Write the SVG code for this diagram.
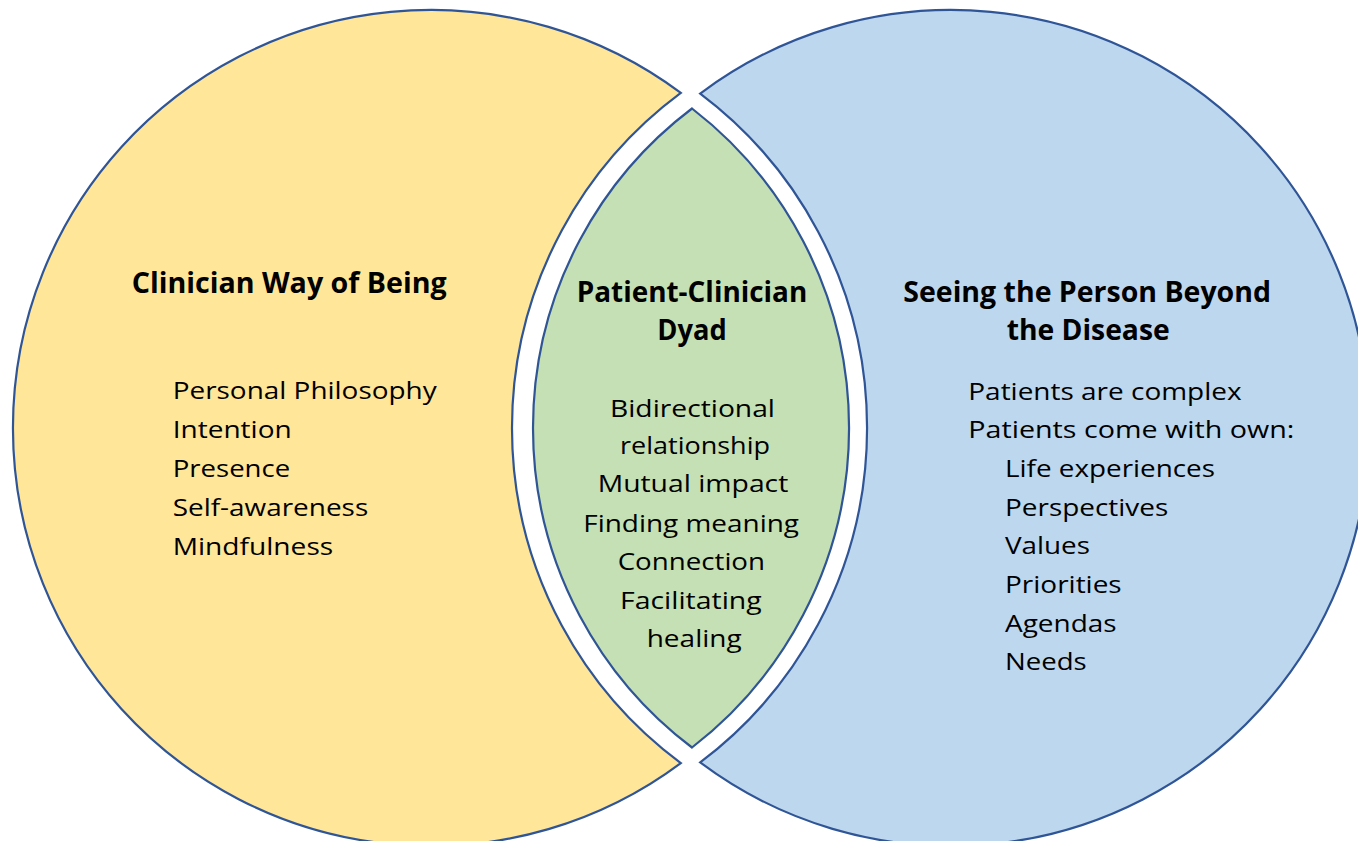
<svg xmlns="http://www.w3.org/2000/svg" width="1358" height="841" viewBox="0 0 1358 841">
  <style>
    .shape { stroke: #2F5597; stroke-width: 2.2; stroke-linejoin: miter; }
    .yellow { fill: #FFE699; }
    .green { fill: #C5E0B4; }
    .blue { fill: #BDD7EE; }
    text { font-family: "Open Sans", "Noto Sans", "Liberation Sans", sans-serif; fill: #000; }
    .title { font-size: 28px; font-weight: bold; }
    .item { font-size: 24px; }
  </style>
  <rect width="1358" height="841" fill="#FFFFFF"/>

  <!-- Left crescent: clinician side -->
  <g id="clinician">
    <path class="shape yellow" d="M 680.8,92.9 A 418 418 0 1 0 680.8,763.1 A 417 417 0 0 1 680.8,92.9 Z"/>
    <text class="title" x="131.7" y="293.3" textLength="315" lengthAdjust="spacingAndGlyphs">Clinician Way of Being</text>
    <text class="item" x="172.7" y="398.5" textLength="264" lengthAdjust="spacingAndGlyphs">Personal Philosophy</text>
    <text class="item" x="172.7" y="438" textLength="119" lengthAdjust="spacingAndGlyphs">Intention</text>
    <text class="item" x="172.7" y="476.8" textLength="117.5" lengthAdjust="spacingAndGlyphs">Presence</text>
    <text class="item" x="172.7" y="515.7" textLength="195.5" lengthAdjust="spacingAndGlyphs">Self-awareness</text>
    <text class="item" x="172.7" y="555" textLength="160.5" lengthAdjust="spacingAndGlyphs">Mindfulness</text>
  </g>

  <!-- Right crescent: patient side -->
  <g id="patient">
    <path class="shape blue" d="M 700.2,93.6 A 418 418 0 1 1 700.2,762.4 A 418.5 418.5 0 0 0 700.2,93.6 Z"/>
    <text class="title" x="903.3" y="301.7" textLength="367.7" lengthAdjust="spacingAndGlyphs">Seeing the Person Beyond</text>
    <text class="title" x="1006.7" y="340" textLength="163" lengthAdjust="spacingAndGlyphs">the Disease</text>
    <text class="item" x="968.3" y="400" textLength="273.3" lengthAdjust="spacingAndGlyphs">Patients are complex</text>
    <text class="item" x="968.3" y="438.3" textLength="326" lengthAdjust="spacingAndGlyphs">Patients come with own:</text>
    <text class="item" x="1005" y="476.7" textLength="210" lengthAdjust="spacingAndGlyphs">Life experiences</text>
    <text class="item" x="1005" y="515.7" textLength="163.3" lengthAdjust="spacingAndGlyphs">Perspectives</text>
    <text class="item" x="1005" y="554.3" textLength="85" lengthAdjust="spacingAndGlyphs">Values</text>
    <text class="item" x="1005" y="592.7" textLength="116.7" lengthAdjust="spacingAndGlyphs">Priorities</text>
    <text class="item" x="1005" y="631.7" textLength="111.7" lengthAdjust="spacingAndGlyphs">Agendas</text>
    <text class="item" x="1005" y="670" textLength="81.7" lengthAdjust="spacingAndGlyphs">Needs</text>
  </g>

  <!-- Central lens: the dyad -->
  <g id="dyad">
    <path class="shape green" d="M 692,108.5 A 400.5 400.5 0 0 0 692,747.5 A 403.5 403.5 0 0 0 692,108.5 Z"/>
    <text class="title" x="576.7" y="301.7" textLength="230.6" lengthAdjust="spacingAndGlyphs">Patient-Clinician</text>
    <text class="title" x="657.3" y="339.5" textLength="69.4" lengthAdjust="spacingAndGlyphs">Dyad</text>
    <text class="item" x="610" y="416.7" textLength="165" lengthAdjust="spacingAndGlyphs">Bidirectional</text>
    <text class="item" x="620" y="453.5" textLength="150" lengthAdjust="spacingAndGlyphs">relationship</text>
    <text class="item" x="597.7" y="492" textLength="190.6" lengthAdjust="spacingAndGlyphs">Mutual impact</text>
    <text class="item" x="583.3" y="531.5" textLength="215.7" lengthAdjust="spacingAndGlyphs">Finding meaning</text>
    <text class="item" x="617.7" y="570" textLength="147.3" lengthAdjust="spacingAndGlyphs">Connection</text>
    <text class="item" x="620" y="609" textLength="141.7" lengthAdjust="spacingAndGlyphs">Facilitating</text>
    <text class="item" x="646.7" y="647" textLength="95" lengthAdjust="spacingAndGlyphs">healing</text>
  </g>

  <!-- No connectors in this diagram -->
  <g id="connectors"/>
</svg>
